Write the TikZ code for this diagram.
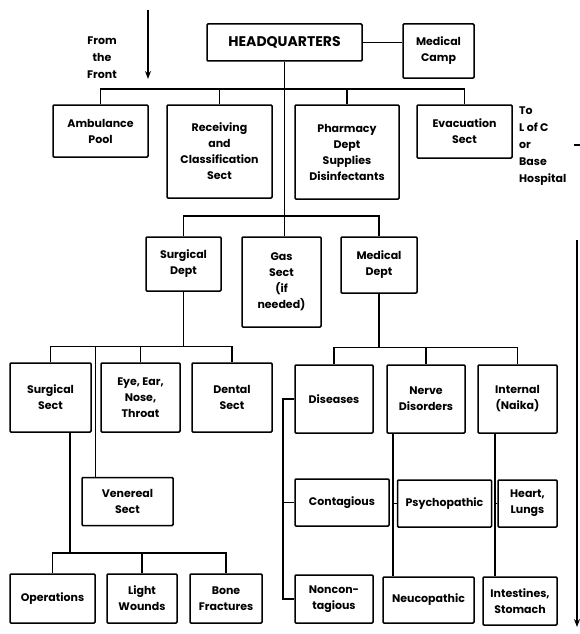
\documentclass[tikz,border=0pt]{standalone}
\usepackage{fontspec}
\usepackage{tikz}
\usetikzlibrary{arrows.meta}
\newfontfamily\chartfont{Poppins}

\tikzset{
  box/.style={draw, line width=1.5pt, rounded corners=1pt, align=center, inner sep=1pt,
    font=\chartfont\bfseries\fontsize{11}{16}\selectfont},
  note/.style={align=center, inner sep=0pt, font=\chartfont\bfseries\fontsize{11}{17}\selectfont},
  link/.style={line width=1.5pt}
}

\begin{document}
\begin{tikzpicture}[x=1pt, y=-1pt]
    \useasboundingbox (0,0) rectangle (579,634);

    % Top row
    \node[box, minimum width=155pt, minimum height=37pt, font=\chartfont\bfseries\fontsize{14}{16}\selectfont] (HQ) at (284.5, 42.5) {HEADQUARTERS};
    \node[box, minimum width=71pt, minimum height=54pt] (MedCamp) at (438.5, 51) {Medical\\Camp};
    \node[note] (Front) at (102, 58) {From\\the\\Front};

    % Second row
    \node[box, minimum width=95pt, minimum height=52pt] (Amb) at (100.5, 131) {Ambulance\\Pool};
    \node[box, minimum width=105pt, minimum height=93pt] (Recv) at (219.5, 151.5) {Receiving\\and\\Classification\\Sect};
    \node[box, minimum width=104pt, minimum height=94pt] (Pharm) at (347, 152) {Pharmacy\\Dept\\Supplies\\Disinfectants};
    \node[box, minimum width=95pt, minimum height=53pt] (Evac) at (464.5, 131.5) {Evacuation\\Sect};
    \node[note, align=left, anchor=west] (ToLC) at (519, 146) {To\\L of C\\or\\Base\\Hospital};

    % Departments
    \node[box, minimum width=75pt, minimum height=54pt] (SurgDept) at (183.5, 264) {Surgical\\Dept};
    \node[box, minimum width=79pt, minimum height=90pt] (Gas) at (281.5, 282) {Gas\\Sect\\(if\\needed)};
    \node[box, minimum width=76pt, minimum height=56pt] (MedDept) at (379, 265) {Medical\\Dept};

    % Surgical sections
    \node[box, minimum width=81pt, minimum height=69pt] (SurgSect) at (50.5, 397.5) {Surgical\\Sect};
    \node[box, minimum width=79pt, minimum height=69pt] (Eye) at (140.5, 397.5) {Eye, Ear,\\Nose,\\Throat};
    \node[box, minimum width=80pt, minimum height=69pt] (Dental) at (232, 397.5) {Dental\\Sect};
    \node[box, minimum width=91pt, minimum height=48pt] (Ven) at (127.5, 501.5) {Venereal\\Sect};
    \node[box, minimum width=85pt, minimum height=49pt] (Oper) at (52.5, 598.5) {Operations};
    \node[box, minimum width=70pt, minimum height=49pt] (Light) at (142, 598.5) {Light\\Wounds};
    \node[box, minimum width=72pt, minimum height=49pt] (Bone) at (226, 598.5) {Bone\\Fractures};

    % Medical sections
    \node[box, minimum width=78pt, minimum height=68pt] (Dis) at (334, 399) {Diseases};
    \node[box, minimum width=78pt, minimum height=68pt] (Nerve) at (426, 399) {Nerve\\Disorders};
    \node[box, minimum width=79pt, minimum height=68pt] (Int) at (517.5, 399) {Internal\\(Naika)};
    \node[box, minimum width=94pt, minimum height=47pt] (Contag) at (342, 502.5) {Contagious};
    \node[box, minimum width=94pt, minimum height=47pt] (Psy) at (444.5, 503.5) {Psychopathic};
    \node[box, minimum width=59pt, minimum height=47pt] (Heart) at (527.5, 503.5) {Heart,\\Lungs};
    \node[box, minimum width=78pt, minimum height=48pt] (Noncont) at (334, 599) {Noncon-\\tagious};
    \node[box, minimum width=91pt, minimum height=46pt] (Neuco) at (428.5, 600) {Neucopathic};
    \node[box, minimum width=74pt, minimum height=48pt] (Intest) at (520, 601) {Intestines,\\Stomach};

    % Free ends and bus lines
    \coordinate (front0) at (148, 10);
    \coordinate (front1) at (148, 79);
    \coordinate (lc0) at (577, 240);
    \coordinate (lc1) at (577, 627);
    \coordinate (to0) at (574, 145);
    \coordinate (to1) at (580, 145);
    \coordinate (bus1) at (284, 89);
    \coordinate (bus2) at (284, 216);
    \coordinate (bus3) at (184, 346.5);
    \coordinate (bus4) at (70, 553);
    \coordinate (bus5) at (379, 347.5);
    \coordinate (disx) at (283, 0);
    \coordinate (nervex) at (393, 0);
    \coordinate (intx) at (495, 0);

    % Arrows
    \draw[link, -{Stealth[length=8pt, width=6pt]}] (front0) -- (front1);
    \draw[link, -{Stealth[length=8pt, width=6pt]}] (lc0) -- (lc1);
    \draw[link] (to0) -- (to1);

    % Headquarters
    \draw[link] (HQ.east) -- (HQ.east -| MedCamp.west);
    \draw[link] (HQ.south) -- (HQ.south |- Gas.north);
    \draw[link] (Amb.north) |- (bus1) -| (Evac.north);
    \draw[link] (Recv.north) -- (Recv.north |- bus1);
    \draw[link] (Pharm.north) -- (Pharm.north |- bus1);
    \draw[link] (SurgDept.north) |- (bus2) -| (MedDept.north);

    % Surgical Dept
    \draw[link] (SurgDept.south) -- (SurgDept.south |- bus3);
    \draw[link] (SurgSect.north) |- (bus3) -| (Dental.north);
    \draw[link] (Eye.north) -- (Eye.north |- bus3);
    \draw[link] ([xshift=14pt]Ven.north west) -- ([xshift=14pt]Ven.north west |- bus3);
    \draw[link] ([xshift=19.5pt]SurgSect.south) -- (bus4);
    \draw[link] (Oper.north) |- (bus4) -| (Bone.north);
    \draw[link] (Light.north) -- (Light.north |- bus4);

    % Medical Dept
    \draw[link] (MedDept.south) -- (bus5);
    \draw[link] (Dis.north) |- (bus5) -| (Int.north);
    \draw[link] (Nerve.north) -- (Nerve.north |- bus5);
    \draw[link] (Dis.west) -| (disx |- Noncont.west) -- (Noncont.west);
    \draw[link] (Contag.west) -- (disx |- Contag.west);
    \draw[link] (nervex |- Nerve.south) -- (nervex |- Neuco.north);
    \draw[link] (Psy.west) -- (nervex |- Psy.west);
    \draw[link] (intx |- Int.south) -- (intx |- Intest.north);
    \draw[link] (Heart.west) -- (intx |- Heart.west);
\end{tikzpicture}
\end{document}
